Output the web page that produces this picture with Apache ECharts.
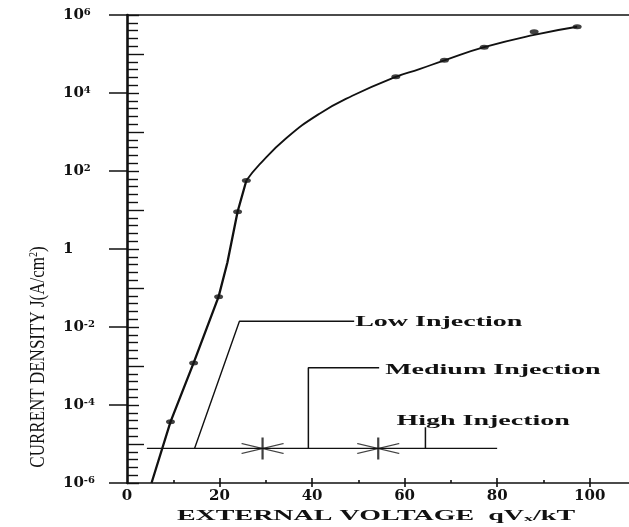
<!DOCTYPE html>
<html>
<head>
<meta charset="utf-8">
<script src="https://cdn.jsdelivr.net/npm/echarts@6/dist/echarts.min.js"></script>
<style>
html,body{margin:0;padding:0;background:#ffffff;}
#chart{width:629px;height:527px;}
</style>
</head>
<body>
<div id="chart"></div>
<script>
// ---------- data ----------
const xMax = 108.5;
const xLabelValues = [0, 20, 40, 60, 80, 100];
const xMajorTicks = [20, 40, 60, 80, 100];
const xMinorTicks = [10, 30, 50, 70, 90];
const yLabelValues = [1e-6, 1e-4, 1e-2, 1, 1e2, 1e4, 1e6];
const yOddDecades = [1e-5, 1e-3, 1e-1, 1e1, 1e3, 1e5];
const yDecadeExponents = [-6, -5, -4, -3, -2, -1, 0, 1, 2, 3, 4, 5];
// the minor ticks split every decade into five equal log steps
const yMinorMantissas = [1.585, 2.512, 3.981, 6.310];

// J-V curve: steep low-injection branch (straight segments)
const lowBranch = [[5.3, 1e-6], [9.4, 3.7e-5], [14.4, 1.2e-3], [19.8, 6e-2], [21.7, 0.45], [23.9, 9], [25.8, 57]];
// curved branch towards high injection
const highBranch = [[25.8, 57], [28.6, 145], [34.4, 690], [41.6, 2950], [48.7, 8500], [58.1, 2.6e4], [63.2, 4.1e4], [68.6, 6.9e4], [77.2, 1.5e5], [88, 3.1e5], [97.3, 5e5]];
// measured points (dots)
const measured = [[9.4, 3.7e-5], [14.4, 1.2e-3], [19.8, 6e-2], [23.9, 9], [25.8, 57], [58.1, 2.6e4], [68.6, 6.9e4], [77.2, 1.5e5], [88, 3.7e5], [97.3, 5e5]];

// injection-regime annotation
const baseLine = [[4.3, 7.7e-6], [80, 7.7e-6]];
const lowLeader = [[14.6, 7.7e-6], [24.3, 1.4e-2], [49.1, 1.4e-2]];
const mediumLeader = [[39.2, 7.7e-6], [39.2, 9e-4], [54.5, 9e-4]];
const highLeader = [[64.5, 7.7e-6], [64.5, 2.7e-5]];
const boundaries = [[29.3, 7.7e-6], [54.3, 7.7e-6]];
const regionNames = ['Low Injection', 'Medium Injection', 'High Injection'];

const yTitle = ['CURRENT DENSITY J(A/cm', '2', ')'];
const xTitle = ['EXTERNAL VOLTAGE  qV', 'x', '/kT'];

// minor log ticks inside each decade
const yMinorTicks = [];
yDecadeExponents.forEach(function (e) {
  yMinorMantissas.forEach(function (m) { yMinorTicks.push(m * Math.pow(10, e)); });
});

// ---------- chart ----------
const INK = '#111111';
const tickFont = {fontFamily: 'DejaVu Serif', fontWeight: 'bold', fontSize: 15, color: INK};

function expLabel(v) {
  const e = Math.round(Math.log10(v));
  if (e === 0) return '{b|1}';
  return '{b|10}{sup|' + e + '}';
}

function overlayY(tick) {
  return {
    type: 'log', logBase: 10, min: 1e-6, max: 1e6, splitNumber: 12, position: 'left',
    axisLine: {show: false, onZero: false},
    axisTick: tick,
    axisLabel: {show: false}, splitLine: {show: false}, minorTick: {show: false}
  };
}

const option = {
  animation: false,
  backgroundColor: '#ffffff',
  grid: {left: 127, right: 0, top: 15, bottom: 44, containLabel: false, outerBoundsMode: 'none'},
  xAxis: [
    {
      type: 'value', min: 0, max: xMax, interval: 20, position: 'bottom',
      axisLine: {show: true, onZero: false, lineStyle: {color: INK, width: 1.5}},
      axisTick: {show: true, inside: false, length: 4, customValues: xMajorTicks, lineStyle: {color: INK, width: 1.6}},
      axisLabel: Object.assign({show: true, customValues: xLabelValues, margin: 6}, tickFont),
      splitLine: {show: false}
    },
    {
      type: 'value', min: 0, max: xMax, interval: 20, position: 'bottom',
      axisLine: {show: false, onZero: false},
      axisTick: {show: true, inside: true, length: 5, customValues: xMajorTicks, lineStyle: {color: INK, width: 1.6}},
      axisLabel: {show: false}, splitLine: {show: false}
    },
    {
      type: 'value', min: 0, max: xMax, interval: 20, position: 'bottom',
      axisLine: {show: false, onZero: false},
      axisTick: {show: true, inside: true, length: 3, customValues: xMinorTicks, lineStyle: {color: INK, width: 1.6}},
      axisLabel: {show: false}, splitLine: {show: false}
    },
    {
      type: 'value', min: 0, max: xMax, interval: 20, position: 'top',
      axisLine: {show: true, onZero: false, lineStyle: {color: INK, width: 1.5}},
      axisTick: {show: false}, axisLabel: {show: false}, splitLine: {show: false}
    }
  ],
  yAxis: [
    {
      type: 'log', logBase: 10, min: 1e-6, max: 1e6, splitNumber: 12, position: 'left',
      axisLine: {show: true, onZero: false, lineStyle: {color: INK, width: 2.6}},
      axisTick: {show: true, inside: false, length: 18, customValues: yLabelValues, lineStyle: {color: INK, width: 1.5}},
      axisLabel: {
        show: true, customValues: yLabelValues, align: 'left', margin: 64,
        formatter: expLabel,
        rich: {
          b: {fontFamily: 'DejaVu Serif', fontWeight: 'bold', fontSize: 15, color: INK},
          sup: {fontFamily: 'DejaVu Serif', fontWeight: 'bold', fontSize: 10, color: INK, verticalAlign: 'top', padding: [0, 0, 6, 0]}
        }
      },
      splitLine: {show: false}, minorTick: {show: false}, minorSplitLine: {show: false}
    },
    overlayY({show: true, inside: true, length: 17, customValues: yOddDecades, lineStyle: {color: INK, width: 1.4}}),
    overlayY({show: true, inside: true, length: 12, customValues: yLabelValues, lineStyle: {color: INK, width: 1.4}}),
    overlayY({show: true, inside: true, length: 11, customValues: yMinorTicks, lineStyle: {color: INK, width: 1.4}})
  ],
  series: [
    {type: 'line', name: 'low branch', data: lowBranch, symbol: 'none', smooth: false, silent: true,
     lineStyle: {color: INK, width: 2.3}, z: 3},
    {type: 'line', name: 'high branch', data: highBranch, symbol: 'none', smooth: 0.5, silent: true,
     lineStyle: {color: INK, width: 1.8}, z: 3},
    {type: 'scatter', name: 'measured', data: measured, symbol: 'circle', symbolSize: [9, 5], silent: true,
     itemStyle: {color: INK}, z: 4},
    {type: 'line', name: 'regimes', data: baseLine, symbol: 'none', silent: true, lineStyle: {color: INK, width: 1.2}},
    {type: 'line', name: regionNames[0], data: lowLeader, symbol: 'none', silent: true, lineStyle: {color: INK, width: 1.4}},
    {type: 'line', name: regionNames[1], data: mediumLeader, symbol: 'none', silent: true, lineStyle: {color: INK, width: 1.5}},
    {type: 'line', name: regionNames[2], data: highLeader, symbol: 'none', silent: true, lineStyle: {color: INK, width: 1.5}},
    {type: 'scatter', name: 'boundaries', data: boundaries, silent: true,
     symbol: 'path://M0,6 L20,11 L0,16 M40,6 L20,11 L40,16 M20,0 L20,22', symbolSize: [42, 22],
     itemStyle: {color: 'rgba(0,0,0,0)', borderColor: INK, borderWidth: 1.6}, z: 4}
  ]
};

const chart = echarts.init(document.getElementById('chart'), null, {renderer: 'canvas'});
chart.setOption(option);

// ---------- text placed through the chart's own scales ----------
const toPx = (p) => chart.convertToPixel({xAxisIndex: 0, yAxisIndex: 0}, p);
const lowEnd = toPx(lowLeader[lowLeader.length - 1]);
const medEnd = toPx(mediumLeader[mediumLeader.length - 1]);
const highTop = toPx(highLeader[highLeader.length - 1]);
const xMid = toPx([xMax / 2, 1e-6]);

const annoFont = 'bold 14px "Liberation Serif"';
const stretch = 2.0;
function anno(text, x, y) {
  return {
    type: 'text', x: x, y: y, scaleX: stretch, scaleY: 1, silent: true,
    style: {text: text, font: annoFont, fill: INK, align: 'left', verticalAlign: 'middle'}
  };
}

chart.setOption({
  graphic: [
    anno(regionNames[0], lowEnd[0] + 1, lowEnd[1] + 1),
    anno(regionNames[1], medEnd[0] + 6, medEnd[1] + 3),
    anno(regionNames[2], highTop[0] - 29, highTop[1] - 6),
    {
      type: 'text', x: xMid[0] - 2, y: 516, scaleX: stretch, scaleY: 1, silent: true,
      style: {
        text: '{a|' + xTitle[0] + '}{s|' + xTitle[1] + '}{a|' + xTitle[2] + '}',
        align: 'center', verticalAlign: 'middle', fill: INK,
        rich: {
          a: {font: 'bold 14px "Liberation Serif"', fill: INK},
          s: {font: 'bold 9px "Liberation Serif"', fill: INK, verticalAlign: 'bottom', padding: [6, 0, 0, 0]}
        }
      }
    },
    {
      type: 'text', x: 38, y: 357, rotation: Math.PI / 2, scaleX: 1, scaleY: 1.25, silent: true,
      style: {
        text: '{a|' + yTitle[0] + '}{p|' + yTitle[1] + '}{a|' + yTitle[2] + '}',
        align: 'center', verticalAlign: 'middle', fill: INK,
        rich: {
          a: {font: '17px "Liberation Serif"', fill: INK},
          p: {font: '10px "Liberation Serif"', fill: INK, verticalAlign: 'top', padding: [0, 0, 7, 0]}
        }
      }
    }
  ]
});
</script>
</body>
</html>
